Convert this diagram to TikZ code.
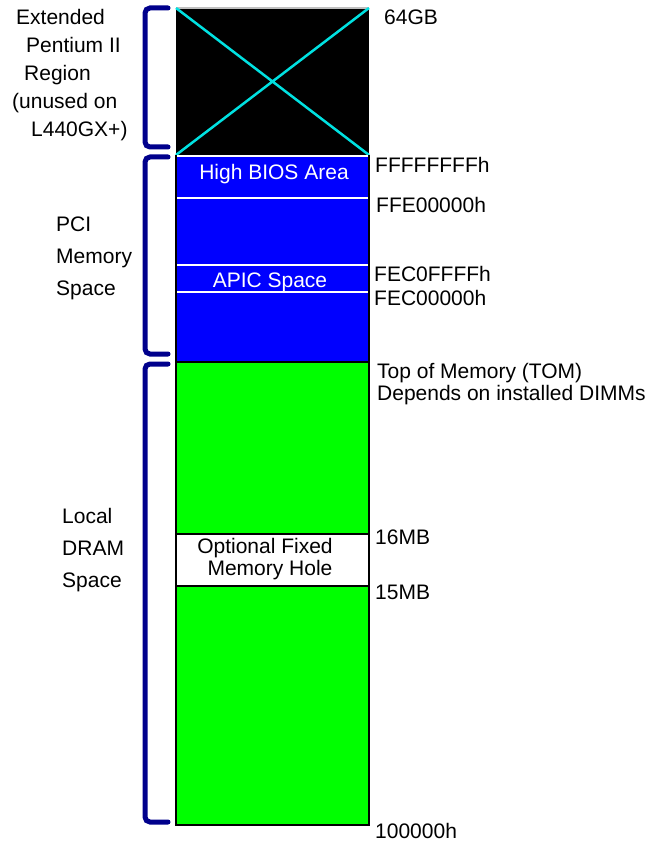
\documentclass[tikz,border=0pt]{standalone}
\usepackage{fontspec}
\setmainfont{Liberation Sans}
\definecolor{bracketblue}{RGB}{0,0,140}
\definecolor{pciblue}{RGB}{0,0,255}
\definecolor{dramgreen}{RGB}{0,255,0}
\definecolor{xcyan}{RGB}{0,225,225}
\tikzset{
  lbl/.style={anchor=base west, inner sep=0pt, font=\fontsize{21}{22}\selectfont},
  inlbl/.style={anchor=base, inner sep=0pt, font=\fontsize{21}{22}\selectfont},
  sidelbl/.style={anchor=base west, inner sep=0pt, align=left},
  brace/.style={draw=bracketblue, line width=5pt, line cap=round, rounded corners=5pt},
  region/.style={draw=black, line width=2.5pt},
  sepline/.style={draw=white, line width=2pt}
}
\begin{document}
\begin{tikzpicture}[x=1pt, y=-1pt]
  \useasboundingbox (0,0) rectangle (651,842);

  % Extended Pentium II region
  \fill[black] (176,8) rectangle (369,155);
  \draw[lightgray, line width=1.5pt] (176,8) -- (369,8);
  \draw[xcyan, line width=2.5pt] (176,8) -- (369,155) (369,8) -- (176,155);

  % PCI memory space
  \fill[pciblue] (176,155) rectangle (369,362);
  \draw[region] (176,155) -- (176,362) (369,155) -- (369,362);
  \draw[sepline] (177,156) -- (368,156);
  \draw[sepline] (177,198) -- (368,198);
  \draw[sepline] (177,265) -- (368,265);
  \draw[sepline] (177,292) -- (368,292);

  % Local DRAM space
  \draw[region, fill=dramgreen] (176,362) rectangle (369,534);
  \draw[region, fill=white] (176,534) rectangle (369,586);
  \draw[region, fill=dramgreen] (176,586) rectangle (369,825);

  % Brackets
  \draw[brace] (168,8) -- (145,8) -- (145,147) -- (168,147);
  \draw[brace] (168,157) -- (145,157) -- (145,354) -- (168,354);
  \draw[brace] (168,364) -- (145,364) -- (145,822) -- (168,822);

  % Texts inside the map
  \node[inlbl, white] (biosarea) at (274,180) {High BIOS Area};
  \node[inlbl, white] (apicspace) at (270,287) {APIC Space};
  \node[inlbl] (holetop) at (265,553) {Optional Fixed};
  \node[inlbl] (holebot) at (270,575) {Memory Hole};

  % Addresses
  \node[lbl] (gb64) at (384,25) {64GB};
  \node[lbl] (ffff) at (375,173) {FFFFFFFFh};
  \node[lbl] (ffe0) at (376,213) {FFE00000h};
  \node[lbl] (apichi) at (374,281) {FEC0FFFFh};
  \node[lbl] (apiclo) at (374,305) {FEC00000h};
  \node[lbl] (tom) at (377,378) {Top of Memory (TOM)};
  \node[lbl] (dimms) at (377,400) {Depends on installed DIMMs};
  \node[lbl] (mb16) at (375,544) {16MB};
  \node[lbl] (mb15) at (375,599) {15MB};
  \node[lbl] (mbase) at (375,838) {100000h};

  % Region names (base = last line)
  \node[sidelbl, font=\fontsize{21}{28}\selectfont] (extname) at (12,137)
    {\hspace*{4pt}Extended\\\hspace*{14pt}Pentium II\\\hspace*{12pt}Region\\(unused on\\\hspace*{19pt}L440GX+)};
  \node[sidelbl, font=\fontsize{21}{32}\selectfont] (pciname) at (56,295)
    {PCI\\Memory\\Space};
  \node[sidelbl, font=\fontsize{21}{32}\selectfont] (dramname) at (62,587)
    {Local\\DRAM\\Space};
\end{tikzpicture}
\end{document}
